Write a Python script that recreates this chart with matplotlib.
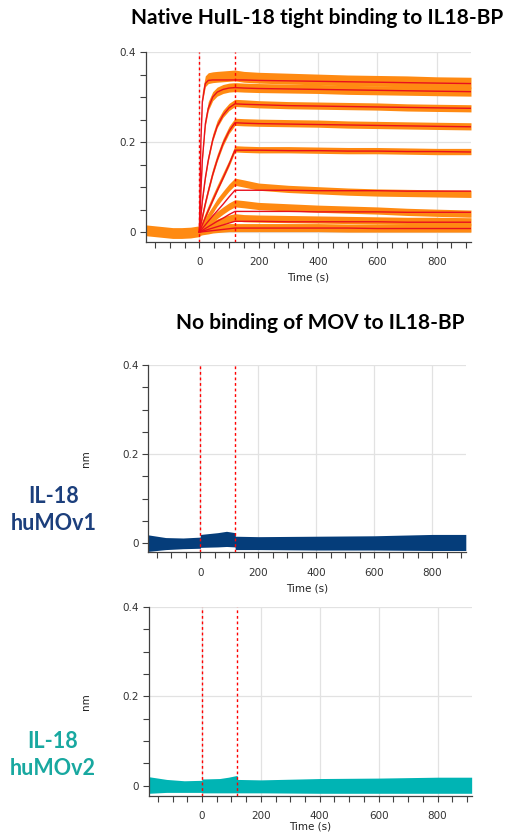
import numpy as np
import matplotlib.pyplot as plt
from matplotlib.ticker import MultipleLocator

# ---- data ----
# baseline (all native traces overlap before t=0)
t_base = [-180, -150, -120, -90, -60, -30, 0]
base = [0.004, 0.002, 0.000, -0.002, -0.002, -0.001, 0.002]
base_hw = 0.012

# association + dissociation time points (s)
t_kin = [0, 5, 10, 20, 30, 45, 60, 80, 100, 120, 150, 200, 300, 400, 500, 600, 700, 800, 916]

# measured traces (band centre, nm), native HuIL-18 at 9 concentrations
data1 = [0, 0.22, 0.30, 0.335, 0.342, 0.344, 0.345, 0.346, 0.347, 0.348, 0.345, 0.343, 0.341, 0.339, 0.337, 0.336, 0.335, 0.333, 0.332]
data2 = [0, 0.10, 0.17, 0.245, 0.28, 0.302, 0.312, 0.318, 0.321, 0.322, 0.321, 0.320, 0.319, 0.318, 0.316, 0.315, 0.314, 0.313, 0.312]
data3 = [0, 0.04, 0.075, 0.125, 0.165, 0.21, 0.24, 0.263, 0.278, 0.287, 0.286, 0.284, 0.282, 0.281, 0.280, 0.279, 0.277, 0.276, 0.275]
data4 = [0, 0.02, 0.037, 0.067, 0.095, 0.133, 0.165, 0.2, 0.227, 0.245, 0.244, 0.243, 0.242, 0.241, 0.239, 0.238, 0.237, 0.236, 0.235]
data5 = [0, 0.01, 0.019, 0.036, 0.052, 0.075, 0.097, 0.125, 0.153, 0.185, 0.184, 0.183, 0.183, 0.182, 0.181, 0.181, 0.180, 0.179, 0.179]
data6 = [0, 0.008, 0.014, 0.025, 0.035, 0.05, 0.066, 0.083, 0.099, 0.112, 0.108, 0.101, 0.096, 0.093, 0.090, 0.088, 0.087, 0.086, 0.085]
data7 = [0, 0.005, 0.009, 0.015, 0.021, 0.03, 0.038, 0.048, 0.057, 0.064, 0.062, 0.058, 0.055, 0.052, 0.050, 0.048, 0.045, 0.043, 0.041]
data8 = [0, 0.003, 0.005, 0.009, 0.012, 0.017, 0.021, 0.026, 0.030, 0.033, 0.031, 0.030, 0.029, 0.028, 0.027, 0.026, 0.025, 0.025, 0.024]
data9 = [0, 0.002, 0.003, 0.004, 0.005, 0.007, 0.008, 0.009, 0.010, 0.010, 0.010, 0.010, 0.010, 0.010, 0.009, 0.009, 0.009, 0.009, 0.009]
noise_hw = [0.012, 0.010, 0.008, 0.008, 0.007, 0.008, 0.008, 0.008, 0.009]

# global fit curves (nm)
fit1 = [0, 0.20, 0.29, 0.330, 0.337, 0.338, 0.338, 0.338, 0.338, 0.338, 0.338, 0.337, 0.336, 0.335, 0.334, 0.333, 0.332, 0.331, 0.330]
fit2 = [0, 0.09, 0.16, 0.24, 0.275, 0.300, 0.311, 0.317, 0.320, 0.321, 0.320, 0.319, 0.318, 0.317, 0.316, 0.315, 0.314, 0.313, 0.312]
fit3 = [0, 0.035, 0.07, 0.12, 0.16, 0.205, 0.235, 0.26, 0.276, 0.285, 0.284, 0.283, 0.281, 0.280, 0.279, 0.278, 0.277, 0.276, 0.275]
fit4 = [0, 0.017, 0.033, 0.063, 0.09, 0.128, 0.16, 0.197, 0.224, 0.243, 0.242, 0.241, 0.240, 0.239, 0.238, 0.237, 0.236, 0.235, 0.234]
fit5 = [0, 0.008, 0.016, 0.032, 0.048, 0.07, 0.092, 0.12, 0.15, 0.182, 0.182, 0.182, 0.181, 0.181, 0.180, 0.180, 0.179, 0.179, 0.178]
fit6 = [0, 0.004, 0.008, 0.016, 0.024, 0.036, 0.047, 0.062, 0.078, 0.093, 0.093, 0.093, 0.093, 0.092, 0.092, 0.092, 0.091, 0.091, 0.091]
fit7 = [0, 0.002, 0.004, 0.008, 0.012, 0.018, 0.024, 0.031, 0.039, 0.046, 0.046, 0.046, 0.046, 0.045, 0.045, 0.045, 0.044, 0.044, 0.044]
fit8 = [0, 0.001, 0.002, 0.004, 0.006, 0.009, 0.012, 0.016, 0.020, 0.024, 0.024, 0.024, 0.023, 0.023, 0.023, 0.023, 0.022, 0.022, 0.022]
fit9 = [0, 0.0004, 0.0008, 0.0015, 0.0023, 0.0034, 0.0045, 0.006, 0.0075, 0.009, 0.009, 0.009, 0.009, 0.009, 0.009, 0.008, 0.008, 0.008, 0.008]

# MOV variants: noise envelopes (nm)
t_mov = [-180, -120, -60, -0.5, 0.5, 60, 90, 119.5, 120.5, 200, 400, 600, 800, 916]
mov1_hi = [0.019, 0.013, 0.012, 0.014, 0.020, 0.024, 0.027, 0.024, 0.016, 0.015, 0.016, 0.017, 0.020, 0.020]
mov1_lo = [-0.018, -0.014, -0.012, -0.011, -0.009, -0.008, -0.007, -0.008, -0.014, -0.014, -0.015, -0.015, -0.016, -0.016]
mov2_hi = [0.020, 0.014, 0.011, 0.012, 0.015, 0.016, 0.019, 0.023, 0.014, 0.013, 0.016, 0.017, 0.019, 0.019]
mov2_lo = [-0.017, -0.015, -0.015, -0.015, -0.016, -0.016, -0.016, -0.016, -0.016, -0.016, -0.017, -0.017, -0.017, -0.017]

xticks = [0, 200, 400, 600, 800]
yticks = [0, 0.2, 0.4]
inj_lines = [0, 120]

orange = '#ff8a12'
navy = '#053d7a'
teal = '#00b4b4'

fig = plt.figure(figsize=(5.13, 8.34), dpi=100)


def style(ax, ylo, nm=True, xlabelpad=4):
    ax.set_xlim(-180, 916)
    ax.set_ylim(ylo, 0.4)
    ax.set_xticks(xticks)
    ax.set_yticks(yticks)
    ax.set_yticklabels(['0', '0.2', '0.4'])
    ax.xaxis.set_minor_locator(MultipleLocator(50))
    ax.yaxis.set_minor_locator(MultipleLocator(0.05))
    ax.tick_params(which='both', direction='out', length=4.5, width=0.8,
                   color='#404040', labelsize=7.5, labelcolor='#333333')
    ax.tick_params(axis='x', which='both', pad=6.5)
    ax.tick_params(axis='y', which='both', pad=2.5)
    ax.grid(True, which='major', color='#e2e2e2', linewidth=0.9, zorder=0)
    ax.set_axisbelow(True)
    for s in ['top', 'right']:
        ax.spines[s].set_visible(False)
    for s in ['left', 'bottom']:
        ax.spines[s].set_color('#404040')
        ax.spines[s].set_linewidth(0.9)
    ax.set_xlabel('Time (s)', fontsize=7.5, color='#222222', labelpad=xlabelpad)
    if nm:
        ax.set_ylabel('nm', fontsize=7.5, color='#222222')
        ax.yaxis.set_label_coords(-0.18, 0.5)
    for x in inj_lines:
        ax.axvline(x, color='red', linestyle=(0, (2, 2)), linewidth=1, zorder=5)


# ---- panel 1: native HuIL-18 ----
ax1 = fig.add_axes([0.2846, 0.7098, 0.6335, 0.2278])
style(ax1, -0.022, nm=False)
b = np.array(base)
ax1.fill_between(t_base, b - base_hw, b + base_hw, color=orange, lw=0, zorder=2)
datas = [data1, data2, data3, data4, data5, data6, data7, data8, data9]
fits = [fit1, fit2, fit3, fit4, fit5, fit6, fit7, fit8, fit9]
for d, hw in zip(datas, noise_hw):
    d = np.array(d)
    ax1.fill_between(t_kin, d - hw, d + hw, color=orange, lw=0, zorder=2)
for f in fits:
    ax1.plot(t_kin, f, color='#e8101e', linewidth=1.0, zorder=3)

# ---- panel 2: huMOv1 ----
ax2 = fig.add_axes([0.289, 0.3378, 0.619, 0.2246])
style(ax2, -0.02)
ax2.fill_between(t_mov, mov1_lo, mov1_hi, color=navy, lw=0, zorder=2)

# ---- panel 3: huMOv2 ----
ax3 = fig.add_axes([0.2904, 0.0456, 0.629, 0.2267])
style(ax3, -0.023, xlabelpad=0.5)
ax3.fill_between(t_mov, mov2_lo, mov2_hi, color=teal, lw=0, zorder=2)

# ---- titles and side labels ----
fig.text(0.619, 0.979, 'Native HuIL-18 tight binding to IL18-BP', ha='center', va='center',
         fontsize=15, fontweight='bold', family='Lato', color='black')
fig.text(0.625, 0.613, 'No binding of MOV to IL18-BP', ha='center', va='center',
         fontsize=15, fontweight='bold', family='Lato', color='black')
fig.text(0.105, 0.3885, 'IL-18\nhuMOv1', ha='center', va='center', fontsize=15.5,
         fontweight='bold', family='Lato', color='#1c3f7c', linespacing=1.35)
fig.text(0.103, 0.0947, 'IL-18\nhuMOv2', ha='center', va='center', fontsize=15.5,
         fontweight='bold', family='Lato', color='#18a8a0', linespacing=1.35)

fig.savefig('out.png', dpi=100)
